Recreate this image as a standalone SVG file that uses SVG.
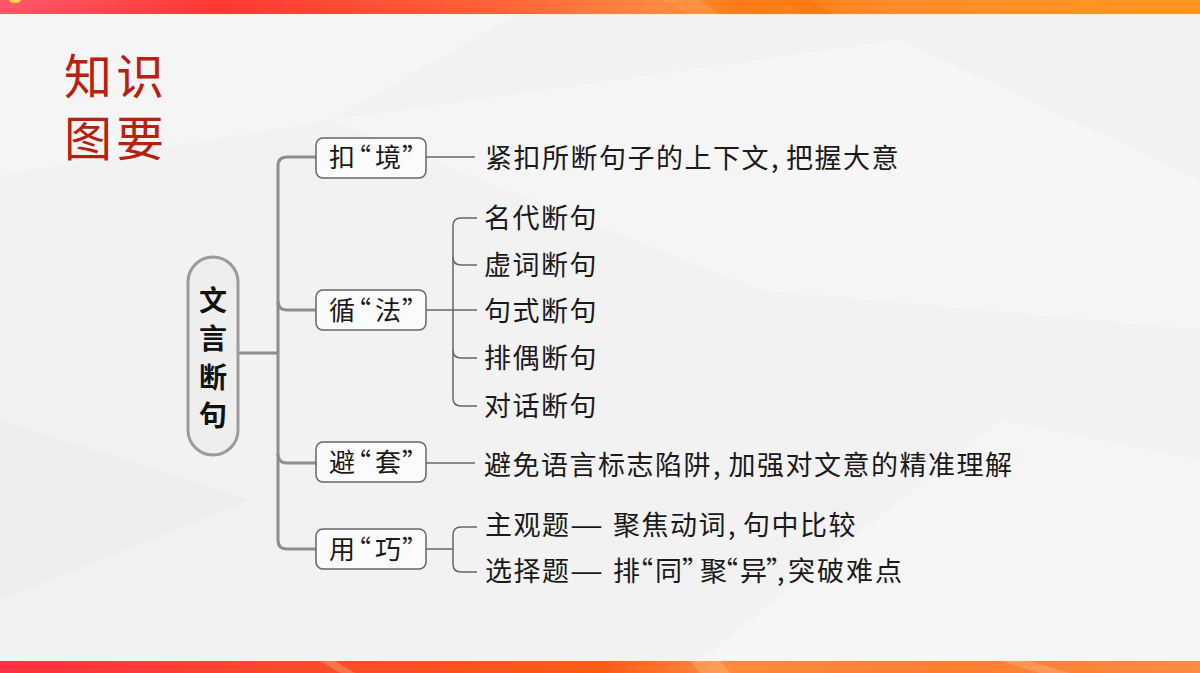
<svg xmlns="http://www.w3.org/2000/svg" width="1200" height="673" viewBox="0 0 1200 673">
<defs>
<linearGradient id="gTop" x1="0" y1="0" x2="1" y2="0">
<stop offset="0" stop-color="#ff5868"/>
<stop offset="0.18" stop-color="#ff3a32"/>
<stop offset="0.42" stop-color="#ff6438"/>
<stop offset="0.55" stop-color="#ff8a40"/>
<stop offset="0.62" stop-color="#ff7a14"/>
<stop offset="0.75" stop-color="#ff8c2a"/>
<stop offset="1" stop-color="#ff961e"/>
</linearGradient>
<linearGradient id="gBot" x1="0" y1="0" x2="1" y2="0">
<stop offset="0" stop-color="#ff3042"/>
<stop offset="0.25" stop-color="#ff4a2a"/>
<stop offset="0.5" stop-color="#ff5a14"/>
<stop offset="0.6" stop-color="#ff8a3c"/>
<stop offset="0.8" stop-color="#ff7e30"/>
<stop offset="1" stop-color="#ff8a40"/>
</linearGradient>
<style>
.txt{font-family:"Noto Sans CJK SC","Noto Sans",sans-serif;fill:#1a1a1a;font-size:27px}
.lbl{font-family:"Noto Sans CJK SC","Noto Sans",sans-serif;fill:#1a1a1a;font-size:26px}
.root{font-family:"Noto Sans CJK SC","Noto Sans",sans-serif;font-size:28px;font-weight:700;fill:#111;text-anchor:middle}
.ttl{font-family:"Noto Sans CJK SC","Noto Sans",sans-serif;font-size:48px;fill:#b8200f;letter-spacing:4px}
.box{fill:#fbfbfb;stroke:#666;stroke-width:1.5}
.trunk{fill:none;stroke:#8e8e8e;stroke-width:3}
.thin{fill:none;stroke:#666;stroke-width:1.5}
</style>
</defs>
<rect width="1200" height="673" fill="#f2f2f2"/>
<g id="background" opacity="0.6">
<polygon points="0,14 520,14 330,120 0,175" fill="#f7f7f7"/>
<polygon points="330,120 900,40 1200,180 1200,330 760,290" fill="#f8f8f8"/>
<polygon points="0,420 250,500 0,600" fill="#e9e9e9"/>
<polygon points="700,660 1000,420 1200,460 1200,660" fill="#f8f8f8"/>
</g>
<rect x="0" y="0" width="1200" height="14" fill="url(#gTop)"/>
<polygon points="660,0 700,0 720,14 690,14" fill="#ffa050" opacity="0.5"/>
<polygon points="780,0 810,0 835,14 805,14" fill="#ff7000" opacity="0.4"/>
<ellipse cx="15" cy="0" rx="6" ry="3" fill="#ffd84a"/>
<rect x="0" y="661" width="1200" height="12" fill="url(#gBot)"/>
<polygon points="320,661 335,661 355,673 340,673" fill="#ff9a70" opacity="0.5"/>
<polygon points="690,661 720,661 730,673 700,673" fill="#ffb070" opacity="0.5"/>
<polygon points="1000,661 1030,661 1070,673 1040,673" fill="#ffb070" opacity="0.5"/>

<g id="title">
<text class="ttl"><tspan x="64" y="94">知识</tspan><tspan x="64" y="156">图要</tspan></text>
</g>

<g id="connectors">
<path class="trunk" d="M239,353 H278"/>
<path class="trunk" d="M316,157 H287 Q278,157 278,166 V540 Q278,549 287,549 H316"/>
<path class="trunk" d="M278,301 Q278,310 287,310 H316"/>
<path class="trunk" d="M278,454 Q278,463 287,463 H316"/>
<path class="thin" d="M426,157 H475"/>
<path class="thin" d="M426,310 H477"/>
<path class="thin" d="M477,218 H461 Q453,218 453,226 V398 Q453,406 461,406 H477"/>
<path class="thin" d="M453,257 Q453,265 461,265 H477"/>
<path class="thin" d="M453,350 Q453,358 461,358 H477"/>
<path class="thin" d="M426,463 H475"/>
<path class="thin" d="M426,549 H453"/>
<path class="thin" d="M477,527 H461 Q453,527 453,535 V564 Q453,572 461,572 H477"/>
</g>

<g id="root">
<rect x="188" y="257" width="50" height="198" rx="25" fill="#eeeeee" stroke="#9b9b9b" stroke-width="3"/>
<text class="root" x="213" y="311">文</text>
<text class="root" x="213" y="349">言</text>
<text class="root" x="213" y="388">断</text>
<text class="root" x="213" y="426">句</text>
</g>

<g id="node-kou">
<rect class="box" x="316" y="138" width="110" height="40" rx="7"/>
<text class="lbl" y="167" x="329 345 375 402">扣“境”</text>
</g>
<g id="node-xun">
<rect class="box" x="316" y="290" width="110" height="40" rx="7"/>
<text class="lbl" y="320" x="329 345 375 402">循“法”</text>
</g>
<g id="node-bi">
<rect class="box" x="316" y="442" width="110" height="40" rx="7"/>
<text class="lbl" y="472" x="329 345 375 402">避“套”</text>
</g>
<g id="node-yong">
<rect class="box" x="316" y="529" width="110" height="40" rx="7"/>
<text class="lbl" y="559" x="329 345 375 402">用“巧”</text>
</g>

<g id="leaf-kou">
<text class="txt" y="168" x="485 513.5 542 570.5 599 627.5 656 684.5 713 741.5 771 786 814.5 843 871.5">紧扣所断句子的上下文,把握大意</text>
</g>
<g id="leaf-xun">
<text class="txt" y="228" x="484 512.5 541 569.5">名代断句</text>
<text class="txt" y="275" x="484 512.5 541 569.5">虚词断句</text>
<text class="txt" y="321" x="484 512.5 541 569.5">句式断句</text>
<text class="txt" y="368" x="484 512.5 541 569.5">排偶断句</text>
<text class="txt" y="416" x="484 512.5 541 569.5">对话断句</text>
</g>
<g id="leaf-bi">
<text class="txt" y="475" x="484 512.5 541 569.5 598 626.5 655 683.5 713 728.5 757 785.5 814 842.5 871 899.5 928 956.5 985">避免语言标志陷阱,加强对文意的精准理解</text>
</g>
<g id="leaf-yong">
<text class="txt" y="535" x="485 513.5 542">主观题</text>
<text class="txt" y="535" x="570" textLength="33" lengthAdjust="spacingAndGlyphs">—</text>
<text class="txt" y="535" x="613 641.5 670 698.5 728 743 771.5 800 828.5">聚焦动词,句中比较</text>
<text class="txt" y="581" x="485 513.5 542">选择题</text>
<text class="txt" y="581" x="570" textLength="33" lengthAdjust="spacingAndGlyphs">—</text>
<text class="txt" y="581" x="613 626 655 682 700 711 740 766 777 788 817 846 875">排“同”聚“异”,突破难点</text>
</g>
</svg>
